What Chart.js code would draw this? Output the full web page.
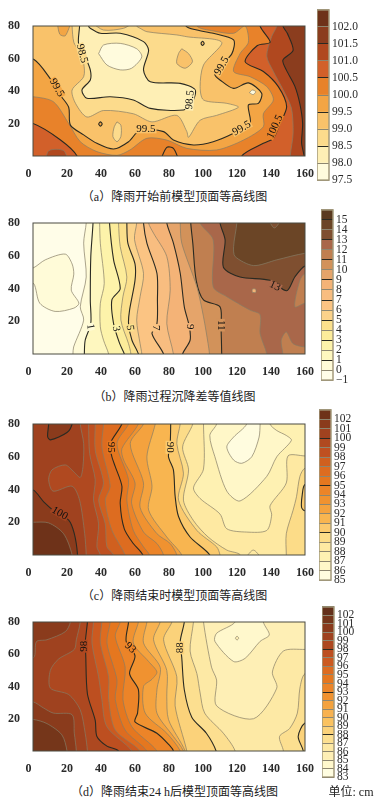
<!DOCTYPE html>
<html><head><meta charset="utf-8">
<script src="https://cdn.jsdelivr.net/npm/chart.js@4"></script>
<style>
html,body{margin:0;padding:0;background:#fff;width:380px;height:804px;overflow:hidden}
canvas{position:absolute;filter:blur(0.35px)}
.cap{position:absolute;font-family:"Liberation Serif","Noto Sans CJK SC",serif;font-size:12px;line-height:14px;color:#222;white-space:pre;transform:translateX(-50%)}
</style></head><body>
<canvas id="pa" width="317" height="172" style="left:0;top:8px"></canvas>
<canvas id="ca" width="63" height="190" style="left:317px;top:0"></canvas>
<div class="cap" style="left:174.5px;top:190px">（a）降雨开始前模型顶面等高线图</div>
<canvas id="pb" width="317" height="172" style="left:0;top:205px"></canvas>
<canvas id="cb" width="59" height="190" style="left:321px;top:200px"></canvas>
<div class="cap" style="left:174.5px;top:390px">（b）降雨过程沉降差等值线图</div>
<canvas id="pc" width="317" height="172" style="left:0;top:406px"></canvas>
<canvas id="cc" width="61" height="190" style="left:319px;top:400px"></canvas>
<div class="cap" style="left:174.5px;top:589px">（c）降雨结束时模型顶面等高线图</div>
<canvas id="pd" width="317" height="172" style="left:0;top:604px"></canvas>
<canvas id="cd" width="58" height="190" style="left:322px;top:597px"></canvas>
<div class="cap" style="left:174.5px;top:785px">（d）降雨结束24 h后模型顶面等高线图</div>
<div class="cap" style="left:351px;top:785px">单位: cm</div>
<script>
const xTicks=[0,20,40,60,80,100,120,140,160];
const yTicks=[20,40,60,80];
const plotBox=[[-30,-30],[-30,110],[190,110],[190,-30]];

/* ---------- (a) ---------- */
const levelsA=[97.5,98,98.5,99,99.5,100,100.5,101,101.5,102,102.5];
const boldA=[98.5,99.5,100.5,101.5];
const colorsA=['#fffbdd','#feefb5','#fcdb8c','#f9c26a','#f3a544','#e8822a','#d2602a','#b0481f','#8b3d1e','#6e3219'];
const a_101_5=[[147,90],[147,80],[149.6,75.5],[153,65],[147,59],[149,53],[154,43],[157,32],[158.6,20],[158,8],[159.5,0],[160,-10],[-30,-10],[-30,90]];
const a_101=[[144,90],[143.4,80],[140.4,73.5],[137.5,61.5],[141.4,52],[147,41],[152,29.5],[153,14],[151.3,0],[151,-10],[-30,-10],[-30,90]];
const a_100_5=[[123,-10],[122.8,0],[135.5,7.8],[141.4,10.9],[145.3,20],[149.2,30.4],[144.3,42.7],[135.5,52],[124.8,58],[132,68],[139.5,70],[133.6,80],[134,90],[-10,90],[-10,20],[0,20],[16,10],[25.9,0],[26,-10]];
const a_100=[[-10,90],[-10,36.5],[0,36.5],[12,33.4],[21,20],[27.8,8.8],[37.6,2.7],[49.4,0.4],[57,3.7],[67,10.9],[78.7,9.8],[90.5,4.7],[108,3.7],[123.8,9.8],[135.5,18],[135.5,26],[141.4,34.5],[137.5,42.7],[127.7,48.8],[118,52],[121.8,63],[126.7,70],[124.8,80],[118,75.5],[106,77],[96.4,80],[96.4,90]];
const a_99_5=[[-10,90],[-10,59.5],[0.4,59.5],[10,47.8],[16,37.5],[21,30],[22,19],[29.8,13],[37.6,7.8],[47.4,4.3],[56.2,8.8],[63,16],[76.8,15],[82.6,9.8],[94.4,6.8],[106,8.8],[118,14],[127.7,20],[126.7,31.4],[132.6,32.4],[134.5,38.6],[126.7,45],[118,41.6],[110,46.8],[107,50],[110,55],[117,63],[118,71.4],[106,75.5],[96.4,77.5],[90,80],[90,90]];
const a_99=[[23,90],[23,80],[24,70],[26.8,65],[29.8,57],[29.8,48.8],[23,40.6],[25,32.4],[31.7,24],[41.5,28],[59,26],[70,21],[84.6,25],[90.5,15],[91.5,11.5],[98.3,22],[108,25],[120.8,30],[114,32.4],[100.3,34.5],[98.3,42.7],[100.3,56],[111,70],[90.5,73.4],[84.6,74.5],[67,76.5],[63,78.6],[61,80],[61,90]];
const a_98_5=[[27.4,90],[27.4,80],[26.8,69.3],[30.7,61],[33.7,53],[33.7,46.8],[28.8,40.6],[31.7,35.5],[45.4,36.5],[59,34.5],[69,29.3],[88.5,28.3],[93.4,32.4],[95.4,40.6],[86.6,44.7],[69,45.7],[65,53],[68,65],[65,70.4],[51.3,75.5],[39.6,75.5],[33.7,78.6],[32.7,80],[32.7,90]];
const a_98=[[38.6,63],[41.5,68.3],[51.3,69.3],[61,66],[64,61],[58,54],[51.3,53],[43.5,56],[38.6,63]];
const a_lensTop=[[34.7,82],[41.5,77.5],[53.3,78.6],[59,82]];
const a_lensTopLeft=[[14,84],[15.7,75],[19,74],[23,84]];
const a_island1=[[87.5,66],[91.5,63],[93.8,58],[89.5,54],[84.6,57],[85.6,63],[87.5,66]];
const a_dot1=[[98.7,69.3],[99.7,70.6],[100.7,69.3],[99.7,68],[98.7,69.3]];
const a_island2=[[127.3,39],[129,40.6],[131,39.6],[129.5,37.8],[127.3,39]];
const a_dot2=[[38.5,19.7],[39.6,21],[40.7,19.7],[39.6,18.4],[38.5,19.7]];
const a_island3=[[49.4,21],[51.7,19],[51.7,12],[49.4,8.8],[47,12],[47.8,18],[49.4,21]];
const a_lensBL=[[7,-4],[9.4,3.3],[18,3.3],[21,-4]];
const a_lensB=[[74.8,-3],[78.7,5.3],[82.6,4.7],[86,-3]];
const labelsA=[['98.5',28.8,63,75,2],['99.5',14,42,60,4],['99.5',111,55.4,-60,3],['98.5',92.4,34.5,-85,1],['99.5',66.4,16.4,0,3],['99.5',122.8,17,-30,3],['100.5',142.4,18,-65,5]];

/* ---------- (b) ---------- */
const levelsB=[-1,0,1,2,3,4,5,6,7,8,9,10,11,12,13,14,15,16];
const boldB=[1,3,5,7,9,11,13,15];
const colorsB=['#fffde8','#fffbd8','#fef7bf','#fdf3aa','#fcec9a','#fbe08c','#fbd28a','#fbc483','#f8bd80','#f4b377','#e5a46a','#d2925a','#c07f50','#a9674a','#7f4f30','#6b4526','#5a3a20'];
const b_14=[[120,90],[119.9,80],[118,65.6],[118.9,59.5],[129.7,54],[143.4,57.5],[160,61.5],[170,61.5],[170,-20],[-30,-20],[-30,90]];
const b_13=[[110,90],[110,80],[113,69.7],[112,53],[121.8,47],[139.4,45],[149.2,38.6],[154,47],[160,53.7],[170,53.7],[170,-20],[-30,-20],[-30,90]];
const b_12=[[98.3,90],[98.3,80],[106,69.7],[106,41],[114,35],[127.7,26.8],[133.6,24],[133.6,12.5],[137.5,0],[137.5,-10],[-30,-10],[-30,90]];
const b_11=[[92.8,90],[92.8,80],[94,67.7],[96,45],[100.3,33],[110,28.8],[110.6,16.6],[111,0],[111,-10],[-30,-10],[-30,90]];
const b_10=[[86.6,90],[86.6,80],[87.5,67.7],[96.4,41],[100.3,22.7],[103,6.3],[103.8,0],[104,-10],[-30,-10],[-30,90]];
const b_9=[[78.7,90],[78.7,80],[82.6,67.7],[86.6,49.3],[89,28.8],[92,16.6],[92.4,8.4],[88,0],[87,-10],[-30,-10],[-30,90]];
const b_8=[[68,90],[68,80],[70.9,73.8],[78.7,59.5],[80.7,39],[78.7,18.6],[82.6,0],[83,-10],[-30,-10],[-30,90]];
const b_7=[[65,90],[65,80],[67,67.7],[72.9,49.3],[73.2,33],[72.9,18.6],[70,12.5],[76.8,0],[78,-10],[-30,-10],[-30,90]];
const b_6=[[61,90],[61,80],[59.7,70],[65,49.3],[63,35],[61,20.7],[63,6.3],[64,0],[64,-10],[-30,-10],[-30,90]];
const b_5=[[55.2,90],[55.2,80],[55.8,67.7],[60,55],[60,45],[56.8,26.8],[56.2,18.6],[58.2,8.4],[62,0],[63,-10],[-30,-10],[-30,90]];
const b_4=[[50.3,90],[50.3,80],[51.3,65.6],[55.2,47],[52.9,35],[51.7,20.7],[56.2,6.3],[57.6,0],[58,-10],[-30,-10],[-30,90]];
const b_3=[[45,90],[45,80],[47.4,57.5],[51.3,40],[46.4,33],[47.4,18.6],[51,6.3],[53.7,0],[55,-10],[-30,-10],[-30,90]];
const b_2=[[39.2,90],[39.2,80],[39.6,67.7],[41.9,43],[39.6,31],[39.6,16.6],[41.5,8.4],[44.5,0],[46,-10],[-30,-10],[-30,90]];
const b_1=[[35.3,90],[35.3,80],[34,59.5],[33.7,33],[34,18.6],[30.7,8.4],[30.2,0],[30,-10],[-30,-10],[-30,90]];
const b_0=[[31.3,90],[31.3,80],[29.8,67.7],[31.3,47],[27.8,28.8],[29.8,20.7],[23.9,4.3],[23.5,0],[23,-10],[-30,-10],[-30,90]];
const b_islandLeft=[[-5,52.5],[0,52.5],[7.2,57.5],[19,61],[23,55],[24,48.8],[22.5,39],[27,31],[24,28],[13,26],[4,31],[0.4,43],[-5,43]];
const b_lobeRight=[[170,31],[160,31],[154,28.8],[157,45],[160,49],[170,49]];
const b_lobeLow=[[170,4.3],[160,4.3],[153,6.3],[149,13.5],[146,8.4],[147,0],[147,-10],[170,-10]];
const b_lensTop=[[137.5,84],[142,77],[147.3,84]];
const b_square=[[129,37.6],[129,39.6],[131,39.6],[131,37.6],[129,37.6]];
const labelsB=[['1',33.7,16.6,80,1],['3',48.8,15.5,80,3],['5',57,16,85,5],['7',72,16,90,7],['9',92,16.6,90,9],['11',110.5,17.6,90,11],['13',142.4,41.5,25,13]];

/* ---------- (c) ---------- */
const levelsC=[85,86,87,88,89,90,91,92,93,94,95,96,97,98,99,100,101,102,103];
const boldC=[90,95,100];
const colorsC=['#fffcdf','#fff7c8','#fef1b2','#fee9a2','#fcdc88','#fbca6e','#f8b550','#f4a23e','#f09230','#ec8428','#e5771f','#dd6c20','#d0601f','#bf5020','#b04920','#a0421f','#8a3b1c','#6e3219'];
const c_101=[[-10,90],[-10,20],[0,20],[9.2,19.6],[18,13],[23,0],[23,-10],[170,-10],[170,90]];
const c_100=[[-10,90],[-10,39.7],[0,39.7],[6.3,32.5],[13,26.4],[21,21.3],[24.3,13],[26.2,0],[26,-10],[170,-10],[170,90],[24,90],[23,80],[20,74.8],[10.2,70.3],[8.6,72.4],[9.2,80],[9,90]];
const c_99=[[27.8,90],[27.8,80],[29.8,68],[29.4,54],[27.8,47.4],[24,50.8],[19,55],[11.2,52],[9.2,46],[11.8,39],[23,42],[27.4,33.5],[30.4,13],[31.3,0],[31.3,-10],[170,-10],[170,90]];
const c_98=[[32.7,90],[32.7,80],[33.3,62],[36.6,46],[35.6,33.5],[38.6,19],[37.6,5],[39.6,0],[40,-10],[170,-10],[170,90]];
const c_97=[[36.6,90],[36.6,80],[36.6,64],[41.5,44],[38.6,33.5],[42.5,19],[43.5,5],[47.4,0],[48,-10],[170,-10],[170,90]];
const c_96=[[41.5,90],[41.5,80],[40.5,66],[45.4,42],[42.5,33.5],[46.4,15],[54.2,0],[56,-10],[170,-10],[170,90]];
const c_95=[[54,90],[52.3,80],[45.4,68],[46.4,60],[48.4,54],[52.3,42],[51.3,31.5],[53.7,16],[59,7],[64.6,0],[66,-10],[170,-10],[170,90]];
const c_94=[[58,90],[56.2,80],[49.4,68],[56.2,46],[55.2,33.5],[59,15],[65,5],[68.5,0],[70,-10],[170,-10],[170,90]];
const c_93=[[64,90],[62,80],[52.3,65],[53.3,58],[60,44],[58,31.5],[65,14],[72.9,7],[76.8,0],[78,-10],[170,-10],[170,90]];
const c_92=[[67,90],[65,80],[57.2,68],[65,44],[63,29],[72.9,13],[80.7,7],[84.6,0],[86,-10],[170,-10],[170,90]];
const c_91=[[73,90],[71.9,80],[67,60],[70,42],[68,27.5],[78.7,11],[87.5,0],[89,-10],[170,-10],[170,90]];
const c_90=[[81,90],[81,80],[80.7,68],[79.7,60],[82.6,52],[83.6,36],[85.6,23.5],[92.4,11],[104,0],[106,-10],[170,-10],[170,90]];
const c_89=[[87,90],[86.6,80],[84.6,68],[88.5,50],[85.6,33.5],[96.4,15],[108,5],[110,0],[111,-10],[170,-10],[170,90]];
const c_88=[[95,90],[94,80],[88,66],[91.5,52],[88.5,33.5],[94.4,21],[103,11],[114,3],[122,0],[123,-10],[149,-10],[149,0],[149,13],[153,27.4],[155,35.6],[157,48],[160,53],[170,53],[170,90]];
const c_87=[[100.3,90],[100.3,80],[100.3,52.5],[94.4,41],[98.3,34.5],[110,25],[114,16],[125.7,14],[137.5,15],[140.4,24.5],[139.4,30],[149,44],[150,60.5],[160,60.5],[170,60.5],[170,90]];
const c_86=[[108,90],[108,80],[104,73],[107,60],[114,39],[121.8,33],[137.5,48],[143.4,60],[152,70],[149,73],[143.4,76],[139.4,80],[139,90]];
const c_85=[[126,90],[125.7,80],[118,72],[114,66],[118,58],[122.8,56],[128.7,60],[133,72],[133.6,80],[134,90]];
const c_lensRight=[[170,43],[160,43],[158.4,37],[158,29],[160,27],[170,27]];
const c_lensBottom=[[124.8,-2],[129.6,3],[134.5,-2]];
const labelsC=[['95',46,65.8,90,10],['90',80.3,65.8,90,5],['100',15.7,25.4,30,15]];

/* ---------- (d) ---------- */
const levelsD=[83,84,85,86,87,88,89,90,91,92,93,94,95,96,97,98,99,100,101,102,103];
const boldD=[83,88,93,98,103];
const colorsD=['#fffde0','#fff8cc','#feefb5','#fde9a5','#fcdf90','#fbd27a','#fac260','#f8b250','#f4a23e','#f09230','#ec8428','#e5771f','#dd6c20','#cc5a20','#bd4f20','#ad4820','#9f421f','#8a3b1c','#75361a','#63301a'];
const d_101=[[-10,90],[-10,19.6],[0,19.6],[8.2,17],[17,10],[20,0],[20,-10],[170,-10],[170,90]];
const d_100=[[-10,30.5],[0,30.5],[6.3,26.6],[12,23.5],[23,22.5],[24.3,11],[25.5,0],[25.5,-10],[170,-10],[170,90],[22,90],[22,80],[19,74],[8.2,69],[2,67.8],[0.4,58],[-10,58]];
const d_99=[[27.8,90],[27.8,80],[25.5,69],[24.3,63],[15,57],[10.2,50],[10.2,39],[21,35],[27.8,25.5],[30.7,11],[32,0],[32,-10],[170,-10],[170,90]];
const d_98=[[32,90],[32,80],[30.7,67],[31,60],[32,35.5],[36.6,19],[37.6,9],[43.5,3],[50.3,0],[53,-10],[170,-10],[170,90]];
const d_97=[[35.6,90],[35.6,80],[34.7,67],[38.6,46],[40.5,32],[43.5,15],[58.2,0],[60,-10],[170,-10],[170,90]];
const d_96=[[40.5,90],[40.5,80],[39.6,67],[44.5,46],[44.5,32],[48.4,13],[63,0],[65,-10],[170,-10],[170,90]];
const d_95=[[45.4,90],[45.4,80],[43.5,67],[49.4,44],[48.4,32],[54.2,13],[67,0],[69,-10],[170,-10],[170,90]];
const d_94=[[53,90],[51.3,80],[48.4,71],[54.2,52],[52.9,32],[58.2,15],[72.9,0],[74,-10],[170,-10],[170,90]];
const d_93=[[56.2,90],[56.2,80],[54.8,68],[60,59],[56.8,48],[62,38],[61.5,23.5],[60,18],[72.9,11],[80.7,3],[82.6,0],[83,-10],[170,-10],[170,90]];
const d_92=[[63,90],[62,80],[59,67],[68,55.5],[72.9,49],[70,44.5],[65,40],[66,23.5],[78.7,11],[86.6,0],[88,-10],[170,-10],[170,90]];
const d_91=[[68,90],[67,80],[65,67],[74.8,52],[72.9,38],[72.9,23.5],[82.6,9],[88.5,0],[90,-10],[170,-10],[170,90]];
const d_90=[[76,90],[74.8,80],[70.9,69],[78.7,50],[78.7,34],[79.7,19.5],[89.5,0],[91,-10],[170,-10],[170,90]];
const d_89=[[83,90],[81.7,80],[76.8,69],[84.6,46],[83.6,28],[90.5,0],[91.5,-10],[170,-10],[170,90]];
const d_88=[[89,90],[89,80],[86.6,68],[87.5,58],[89,38],[93.4,21],[102,11],[107.7,0],[109,-10],[170,-10],[170,90]];
const d_87=[[95,90],[94.4,80],[92.4,62],[96.4,48],[98.3,36],[101,23.5],[112,11],[118.9,0],[119,-10],[147.3,-10],[147.3,0],[145,9],[151,14],[155.5,23.5],[157,39],[160,48],[170,48],[170,90]];
const d_86=[[100.3,90],[100.3,80],[105,52],[108,44],[108,28],[129.7,20],[143.4,39],[140.8,49],[147.3,62],[160,63],[170,63],[170,90]];
const d_85=[[119,90],[118.9,80],[108,73],[107,68],[118,55.5],[124.8,57.5],[133.6,68],[139,72],[135.5,80],[136,90]];
const d_lensRight=[[170,17.3],[160,17.3],[156,9],[159,0],[159,-10],[170,-10]];
const d_dot=[[119,70],[120,71.2],[121,70],[120,68.8],[119,70]];
const labelsD=[['98',29.8,65,-90,15],['93',57.2,64,45,10],['88',86.6,64,-90,5]];

/* ---------- layer tables: array, colour index, heavy contour ---------- */
const layersA=[[plotBox,8,0],[a_101_5,7,1],[a_101,6,0],[a_100_5,5,1],[a_lensBL,7,0],[a_100,4,0],[a_lensB,5,1],[a_99_5,3,1],[a_lensTopLeft,4,0],[a_99,2,0],[a_lensTop,3,0],[a_98_5,1,1],[a_98,0,0],[a_island1,3,0],[a_dot1,3,1],[a_island2,0,0],[a_dot2,4,1],[a_island3,2,0]];
const layersB=[[plotBox,15,0],[b_14,14,0],[b_lensTop,14,0],[b_13,13,1],[b_12,12,0],[b_lobeRight,12,0],[b_lobeLow,12,0],[b_square,9,0],[b_11,11,1],[b_10,10,0],[b_9,9,1],[b_8,8,0],[b_7,7,1],[b_6,6,0],[b_5,5,1],[b_4,4,0],[b_3,3,1],[b_2,2,0],[b_1,1,1],[b_0,0,0],[b_islandLeft,1,0]];
const layersC=[[plotBox,17,0],[c_101,16,0],[c_100,15,1],[c_99,14,0],[c_98,13,0],[c_97,12,0],[c_96,11,0],[c_95,10,1],[c_94,9,0],[c_93,8,0],[c_92,7,0],[c_91,6,0],[c_90,5,1],[c_89,4,0],[c_lensRight,5,1],[c_88,3,0],[c_87,2,0],[c_lensBottom,3,0],[c_86,1,0],[c_85,0,0]];
const layersD=[[plotBox,18,0],[d_101,17,0],[d_100,16,0],[d_99,15,0],[d_98,14,1],[d_97,13,0],[d_96,12,0],[d_95,11,0],[d_94,10,0],[d_93,9,1],[d_92,8,0],[d_91,7,0],[d_90,6,0],[d_89,5,0],[d_88,4,1],[d_lensRight,5,1],[d_87,3,0],[d_86,2,0],[d_85,1,0],[d_dot,2,0]];

const SERIF='"Liberation Serif","DejaVu Serif",serif';
const INK='#2a2a2a';

function framePlugin(col,w){return{id:'frame',afterDraw(c){const a=c.chartArea,x=c.ctx;x.save();x.strokeStyle=col;x.lineWidth=w;x.strokeRect(a.left,a.top,a.right-a.left,a.bottom-a.top);x.restore();}};}
function labelPlugin(items,colors){return{id:'contourLabels',afterDatasetsDraw(c){const x=c.ctx,sx=c.scales.x,sy=c.scales.y;x.save();x.beginPath();x.rect(c.chartArea.left,c.chartArea.top,c.chartArea.width,c.chartArea.height);x.clip();
 for(const [t,vx,vy,ang,band] of items){x.save();x.translate(sx.getPixelForValue(vx),sy.getPixelForValue(vy));x.rotate(ang*Math.PI/180);x.font='11px '+SERIF;const w=x.measureText(t).width;x.fillStyle=colors[band];x.fillRect(-w/2-1,-4,w+2,8);x.fillStyle='#111';x.textAlign='center';x.textBaseline='middle';x.fillText(t,0,0);x.restore();}
 x.restore();}};}

function contour(id,layers,colors,labels,plotTop,plotBottom,canvasTop){
 const H=172;
 const datasets=layers.map(([pts,band,heavy],i)=>({
  data:pts.map(p=>({x:p[0],y:p[1]})),
  showLine:true,fill:'shape',tension:0.28,capBezierPoints:false,
  backgroundColor:colors[band],
  borderColor:pts===plotBox?'rgba(0,0,0,0)':(heavy?'#2a2a22':'#857c66'),
  borderWidth:heavy?1.1:0.7,
  pointRadius:0,pointHoverRadius:0,order:layers.length-i
 }));
 return new Chart(document.getElementById(id),{type:'scatter',data:{datasets},
  plugins:[labelPlugin(labels,colors),framePlugin('#4a4a40',1)],
  options:{responsive:false,animation:false,events:[],
   layout:{padding:{top:plotTop-canvasTop,right:12,left:0,bottom:0}},
   plugins:{legend:{display:false},tooltip:{enabled:false},title:{display:false}},
   scales:{
    x:{type:'linear',min:0,max:160,afterBuildTicks(s){s.ticks=xTicks.map(v=>({value:v}));},
     afterFit(s){s.height=canvasTop+H-plotBottom;},
     grid:{display:false},border:{display:false},
     ticks:{padding:3,maxRotation:0,autoSkip:false,color:INK,font:{family:SERIF,size:12,weight:'bold'},callback:v=>v===0?'0\u00a0\u00a0\u00a0':String(v)}},
    y:{type:'linear',min:0,max:80,afterBuildTicks(s){s.ticks=yTicks.map(v=>({value:v}));},
     afterFit(s){s.width=33;},
     grid:{display:false},border:{display:false},
     ticks:{padding:5,autoSkip:false,color:INK,font:{family:SERIF,size:12,weight:'bold'}}}
   }}});
}
function colorbar(id,levels,colors,bold,step,digits,top,bottom,H,barW,W){
 const lo=levels[0],hi=levels[levels.length-1];
 const datasets=colors.map((c,i)=>({data:[[levels[i],levels[i+1]]],backgroundColor:c,borderWidth:0,barPercentage:1,categoryPercentage:1,grouped:false}));
 return new Chart(document.getElementById(id),{type:'bar',data:{labels:[''],datasets},
  plugins:[framePlugin('#a49a7c',1.5)],
  options:{responsive:false,animation:false,events:[],
   layout:{padding:{top,bottom:H-bottom,left:0,right:0}},
   plugins:{legend:{display:false},tooltip:{enabled:false}},
   scales:{x:{display:false},
    y:{position:'right',min:lo,max:hi,afterFit(s){s.width=W-barW;},
     border:{display:false},
     grid:{z:1,drawTicks:false,lineWidth:1,color:c=>bold.includes(c.tick.value)?'#2a2a22':'#8d8670'},
     ticks:{stepSize:step,padding:3,autoSkip:false,color:INK,font:{family:SERIF,size:11.5},
      callback:v=>v===hi?'':v.toFixed(digits).replace('-','\u2212')}}
   }}});
}
contour('pa',layersA,colorsA,labelsA,26,156,8);
contour('pb',layersB,colorsB,labelsB,223,354,205);
contour('pc',layersC,colorsC,labelsC,424,555,406);
contour('pd',layersD,colorsD,labelsD,622,751,604);
colorbar('ca',levelsA,colorsA,boldA,0.5,1,8,183,190,12,63);
colorbar('cb',levelsB,colorsB,boldB,1,0,8,182,190,12,59);
colorbar('cc',levelsC,colorsC,boldC,1,0,7,182,190,12,61);
colorbar('cd',levelsD,colorsD,boldD,1,0,8,182,190,12,58);
</script>
</body></html>
